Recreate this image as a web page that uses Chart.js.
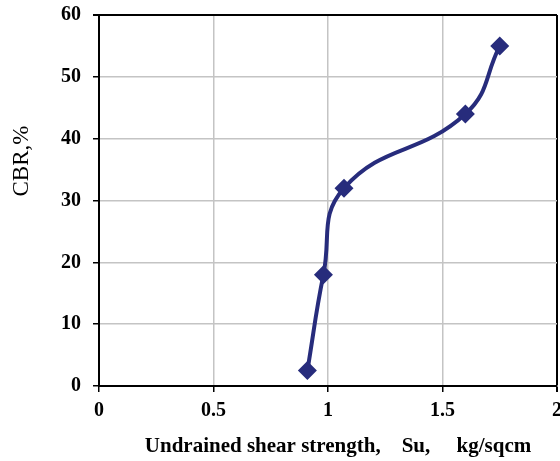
<!DOCTYPE html>
<html>
<head>
<meta charset="utf-8">
<script src="https://cdn.jsdelivr.net/npm/chart.js@4"></script>
<style>
  html, body { margin: 0; padding: 0; background: #fff; overflow: hidden; }
  #wrap { width: 580px; height: 461px; }
</style>
</head>
<body>
<div id="wrap"><canvas id="cbrChart" width="580" height="461"></canvas></div>
<script>
// Su (kg/sqcm) et CBR (%)
const shearStrength = [0.91, 0.98, 1.07, 1.6, 1.75];
const cbrValues = [2.5, 18, 32, 44, 55];
const xTicks = [0, 0.5, 1, 1.5, 2];
const yTicks = [0, 10, 20, 30, 40, 50, 60];

const xTitle = 'Undrained shear strength,    Su,     kg/sqcm';
const yTitle = 'CBR,%';

const lineColor = '#272c7c';

// titres des axes dessinés à la main pour les placer librement
const axisTitles = {
    id: 'axisTitles',
    afterDraw(chart) {
        const ctx = chart.ctx;
        ctx.save();
        ctx.fillStyle = '#000';
        ctx.textAlign = 'center';
        ctx.textBaseline = 'middle';
        ctx.font = 'bold 21px "Liberation Serif", "Times New Roman", serif';
        ctx.fillText(xTitle, 338, 447);
        ctx.translate(22, 161);
        ctx.rotate(-Math.PI / 2);
        ctx.font = '23px "Liberation Serif", "Times New Roman", serif';
        ctx.fillText(yTitle, 0, 0);
        ctx.restore();
    }
};

const ctx = document.getElementById('cbrChart').getContext('2d');
const cbrChart = new Chart(ctx, {
    type: 'scatter',
    data: {
        datasets: [{
            data: shearStrength.map((x, i) => ({ x: x, y: cbrValues[i] })),
            showLine: true,
            borderColor: lineColor,
            backgroundColor: lineColor,
            borderWidth: 4,
            tension: 0.45,
            pointStyle: 'rectRot',
            pointRadius: 9.5,
            pointHoverRadius: 9.5,
            pointBorderWidth: 0
        }]
    },
    options: {
        responsive: false,
        animation: false,
        layout: { padding: { left: 0, top: 15, right: 23, bottom: 0 } },
        plugins: {
            legend: { display: false },
            tooltip: { enabled: false }
        },
        scales: {
            x: {
                type: 'linear',
                min: 0,
                max: 2,
                afterBuildTicks: scale => { scale.ticks = xTicks.map(v => ({ value: v })); },
                afterFit: scale => { scale.height = 75; },
                ticks: {
                    color: '#000',
                    padding: 7,
                    maxRotation: 0,
                    font: { family: '"Liberation Serif", serif', size: 20, weight: 'bold' },
                    callback: v => String(v)
                },
                grid: {
                    color: c => (c.tick && c.tick.value === 2) ? '#000' : '#c4c4c4',
                    lineWidth: c => (c.tick && c.tick.value === 2) ? 2 : 1.5,
                    tickColor: '#000',
                    tickLength: 6
                },
                border: { color: '#000', width: 2 }
            },
            y: {
                type: 'linear',
                min: 0,
                max: 60,
                afterBuildTicks: scale => { scale.ticks = yTicks.map(v => ({ value: v })); },
                afterFit: scale => {
                    scale.width = 99;
                    scale.paddingTop = 0;
                    scale.paddingBottom = 0;
                },
                ticks: {
                    color: '#000',
                    padding: 12,
                    font: { family: '"Liberation Serif", serif', size: 20, weight: 'bold' }
                },
                grid: {
                    color: c => (c.tick && c.tick.value === 60) ? '#000' : '#c4c4c4',
                    lineWidth: c => (c.tick && c.tick.value === 60) ? 2 : 1.5,
                    tickColor: '#000',
                    tickLength: 6
                },
                border: { color: '#000', width: 2 }
            }
        }
    },
    plugins: [axisTitles]
});
</script>
</body>
</html>
